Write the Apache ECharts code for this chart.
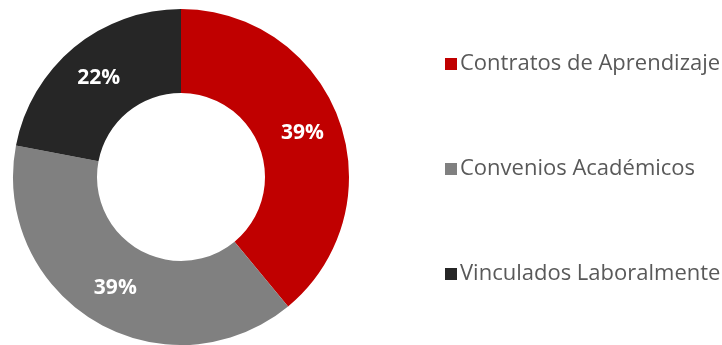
<!DOCTYPE html>
<html>
<head>
<meta charset="utf-8">
<script src="https://cdn.jsdelivr.net/npm/echarts@6/dist/echarts.min.js"></script>
<style>
  html, body { margin: 0; padding: 0; background: #fff; }
  #chart { width: 722px; height: 345px; }
</style>
</head>
<body>
<div id="chart"></div>
<script>
// Share of students by placement type
const categories = ['Contratos de Aprendizaje', 'Convenios Académicos', 'Vinculados Laboralmente'];
const values = [39, 39, 22];
const colors = ['#C00000', '#808080', '#262626'];

const chart = echarts.init(document.getElementById('chart'), null, { renderer: 'canvas' });

chart.setOption({
  animation: false,
  color: colors,
  legend: {
    orient: 'vertical',
    left: 440,
    top: 47,
    itemWidth: 12,
    itemHeight: 12,
    itemGap: 81,
    icon: 'rect',
    textStyle: {
      fontFamily: 'Open Sans',
      fontSize: 22,
      lineHeight: 24,
      color: '#595959',
      padding: [0, 0, 0, -2]
    },
    data: categories
  },
  series: [{
    type: 'pie',
    center: [181, 177],
    radius: [84, 168],
    startAngle: 90,
    clockwise: true,
    avoidLabelOverlap: false,
    label: {
      show: true,
      position: 'inside',
      formatter: '{c}%',
      color: '#fff',
      fontFamily: 'Open Sans',
      fontWeight: 'bold',
      fontSize: 21
    },
    labelLine: { show: false },
    itemStyle: { borderWidth: 0 },
    emphasis: { disabled: true },
    data: categories.map((name, i) => ({ name, value: values[i] }))
  }]
});
</script>
</body>
</html>
